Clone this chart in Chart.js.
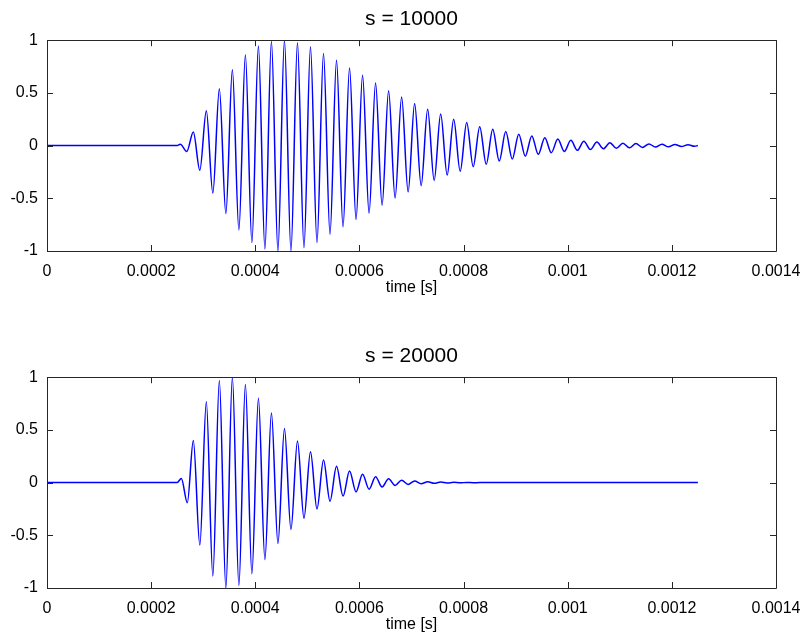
<!DOCTYPE html>
<html>
<head>
<meta charset="utf-8">
<script src="https://cdn.jsdelivr.net/npm/chart.js@4.4.1/dist/chart.umd.min.js"></script>
<style>
html,body{margin:0;padding:0;background:#fff;width:803px;height:634px;overflow:hidden;}
.w{position:absolute;left:0;width:803px;height:297px;}
#w1{top:0;}
#w2{top:337px;}
</style>
</head>
<body>
<div class="w" id="w1"><canvas id="c1"></canvas></div>
<div class="w" id="w2"><canvas id="c2"></canvas></div>
<script>
// ---- data (time in microseconds at extrema) ----
const titleTop = 's = 10000';
const titleBottom = 's = 20000';
const xAxisTitle = 'time [s]';

const xTickValues = [0, 0.0002, 0.0004, 0.0006, 0.0008, 0.001, 0.0012, 0.0014];
const xTickLabels = ['0', '0.0002', '0.0004', '0.0006', '0.0008', '0.001', '0.0012', '0.0014'];
const yTickValues = [-1, -0.5, 0, 0.5, 1];
const yTickLabels = ['-1', '-0.5', '0', '0.5', '1'];

const timeTopUs = [0, 250, 256, 268.5, 281, 293.5, 306, 318.5, 331, 343.5, 356, 368.5, 381, 393.5,
  406, 418.5, 431, 443.5, 456, 468.5, 481, 493.5, 506, 518.5, 531, 543.5, 556, 568.5, 581, 593.5,
  606, 618.5, 631, 643.5, 656, 668.5, 681, 693.5, 706, 718.5, 731, 743.5, 756, 768.5, 781, 793.5,
  806, 818.5, 831, 843.5, 856, 868.5, 881, 893.5, 906, 918.5, 931, 943.5, 956, 968.5, 981, 993.5,
  1006, 1018.5, 1031, 1043.5, 1056, 1068.5, 1081, 1093.5, 1106, 1118.5, 1131, 1143.5, 1156, 1168.5,
  1181, 1193.5, 1206, 1218.5, 1231, 1243.5, 1250];
const valTop = [0, 0, 0.012, -0.055, 0.13, -0.234, 0.33, -0.45, 0.54, -0.645, 0.72, -0.80, 0.86, -0.92,
  0.946, -0.98, 0.99, -1.0, 1.0, -1.0, 0.975, -0.97, 0.937, -0.92, 0.873, -0.84, 0.81, -0.77, 0.737, -0.70,
  0.668, -0.64, 0.595, -0.566, 0.52, -0.497, 0.46, -0.44, 0.40, -0.38, 0.345, -0.33, 0.30, -0.28, 0.25, -0.244,
  0.22, -0.20, 0.18, -0.177, 0.155, -0.146, 0.133, -0.127, 0.108, -0.100, 0.092, -0.083, 0.075, -0.067, 0.062, -0.055,
  0.05, -0.045, 0.041, -0.037, 0.034, -0.030, 0.028, -0.025, 0.023, -0.021, 0.019, -0.017, 0.016, -0.014,
  0.013, -0.012, 0.011, -0.009, 0.008, -0.007, 0.0];

const timeBottomUs = [0, 250, 258, 269.5, 281, 293.5, 306, 318.5, 331, 343.5, 356, 368.5, 381, 393.5,
  406, 418.5, 431, 443.5, 456, 468.5, 481, 493.5, 506, 518.5, 531, 543.5, 556, 568.5, 581, 593.5,
  606, 618.5, 631, 643.5, 656, 668.5, 681, 693.5, 706, 718.5, 731, 743.5, 756, 768.5, 781, 793.5,
  806, 818.5, 831, 1250];
const valBottom = [0, 0, 0.04, -0.19, 0.40, -0.593, 0.767, -0.886, 0.968, -1.0, 1.0, -0.975, 0.93, -0.864,
  0.80, -0.73, 0.66, -0.577, 0.514, -0.445, 0.394, -0.338, 0.293, -0.25, 0.215, -0.177, 0.155, -0.128, 0.11, -0.088,
  0.08, -0.062, 0.055, -0.042, 0.036, -0.027, 0.023, -0.017, 0.015, -0.011, 0.009, -0.007, 0.005, -0.004, 0.003, -0.002,
  0.0015, -0.001, 0.0, 0.0];

// ---- chart ----
Chart.defaults.font.family = "'Liberation Sans', Arial, Helvetica, sans-serif";
Chart.defaults.color = '#000';

const framePlugin = {
  id: 'frame',
  afterDraw(chart) {
    const {ctx, chartArea: {left, right, top, bottom}, scales: {x, y}} = chart;
    const L = 6;
    ctx.save();
    ctx.strokeStyle = '#262626';
    ctx.lineWidth = 1;
    ctx.beginPath();
    ctx.rect(Math.round(left) + 0.5, Math.round(top) + 0.5, Math.round(right) - Math.round(left), Math.round(bottom) - Math.round(top));
    x.ticks.forEach(t => {
      const px = Math.round(x.getPixelForValue(t.value)) + 0.5;
      ctx.moveTo(px, bottom); ctx.lineTo(px, bottom - L);
      ctx.moveTo(px, top); ctx.lineTo(px, top + L);
    });
    y.ticks.forEach(t => {
      const py = Math.round(y.getPixelForValue(t.value)) + 0.5;
      ctx.moveTo(left, py); ctx.lineTo(left + L, py);
      ctx.moveTo(right, py); ctx.lineTo(right - L, py);
    });
    ctx.stroke();
    ctx.restore();
  }
};

function makeChart(id, title, timesUs, vals) {
  const pts = timesUs.map((t, i) => ({x: t / 1e6, y: vals[i]}));
  return new Chart(document.getElementById(id), {
    type: 'line',
    data: {datasets: [{
      data: pts,
      borderColor: '#0000ff',
      borderWidth: 1.5,
      pointRadius: 0,
      fill: false,
      cubicInterpolationMode: 'monotone'
    }]},
    options: {
      responsive: true,
      maintainAspectRatio: false,
      animation: false,
      layout: {padding: {left: 0, right: 27, top: 0, bottom: 0}},
      plugins: {
        legend: {display: false},
        tooltip: {enabled: false},
        title: {
          display: true, text: title, color: '#000', fullSize: false,
          font: {size: 21, weight: 'normal'},
          padding: {top: 7, bottom: 8}
        }
      },
      scales: {
        x: {
          type: 'linear', min: 0, max: 0.0014,
          grid: {display: false, drawTicks: false},
          border: {display: false},
          afterBuildTicks: s => { s.ticks = xTickValues.map(v => ({value: v})); },
          afterFit: s => { s.height = 46; s.paddingLeft = 0; s.paddingRight = 0; },
          ticks: {
            autoSkip: false, maxRotation: 0, padding: 11,
            font: {size: 16},
            callback: (v, i) => xTickLabels[i]
          },
          title: {display: true, text: xAxisTitle, font: {size: 16}, padding: {top: 0, bottom: 0}}
        },
        y: {
          type: 'linear', min: -1, max: 1,
          grid: {display: false, drawTicks: false},
          border: {display: false},
          afterBuildTicks: s => { s.ticks = yTickValues.map(v => ({value: v})); },
          afterFit: s => { s.width = 47; s.paddingTop = 0; s.paddingBottom = 0; },
          ticks: {
            autoSkip: false, padding: 9,
            font: {size: 16},
            callback: (v, i) => yTickLabels[i]
          }
        }
      }
    },
    plugins: [framePlugin]
  });
}

makeChart('c1', titleTop, timeTopUs, valTop);
makeChart('c2', titleBottom, timeBottomUs, valBottom);
</script>
</body>
</html>
